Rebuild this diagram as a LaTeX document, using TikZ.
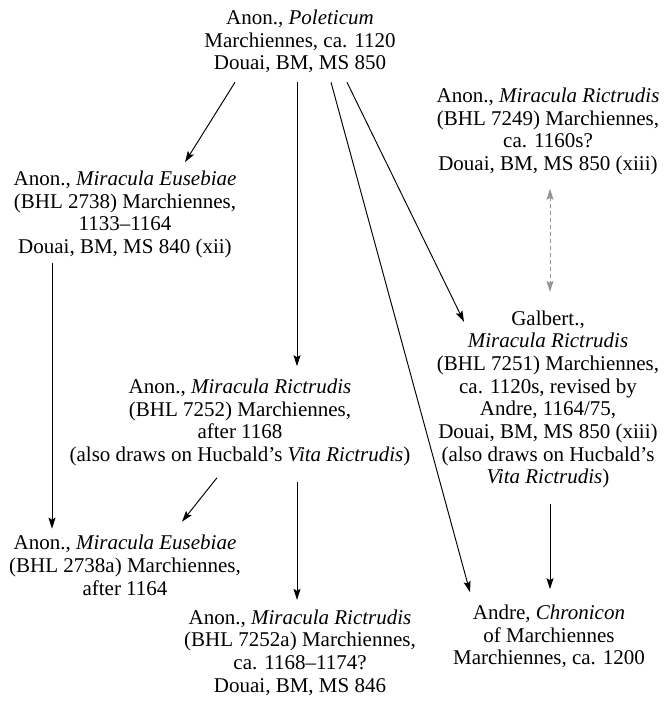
\documentclass[tikz,border=0pt]{standalone}
\usepackage{fontspec}
\setmainfont{Liberation Serif}
\usepackage{tikz}
\usetikzlibrary{arrows.meta}

\begin{document}
\begin{tikzpicture}[x=1pt, y=1pt,
    txt/.style = {align=center, inner sep=0pt, font=\fontsize{21}{22.7}\selectfont},
    arr/.style = {line width=0.95pt, -{Stealth[length=11pt, width=7pt, inset=2pt]}},
    dsh/.style = {line width=0.95pt, black!42, dash pattern=on 4pt off 3pt,
                  {Stealth[length=11pt, width=7pt, inset=2pt]}-{Stealth[length=11pt, width=7pt, inset=2pt]}}]
    \useasboundingbox (0,0) rectangle (665,703);
    \node[txt] (pol) at (300,661.5) {Anon., \textit{Poleticum}\\Marchiennes, ca. 1120\\Douai, BM, MS 850};
    \node[txt] (r7249) at (548,571.5) {Anon., \textit{Miracula Rictrudis}\\(BHL 7249) Marchiennes,\\ca. 1160s?\\Douai, BM, MS 850 (xiii)};
    \node[txt] (eus) at (125,488.5) {Anon., \textit{Miracula Eusebiae}\\(BHL 2738) Marchiennes,\\1133--1164\\Douai, BM, MS 840 (xii)};
    \node[txt] (galb) at (548,303.5) {Galbert.,\\\textit{Miracula Rictrudis}\\(BHL 7251) Marchiennes,\\ca. 1120s, revised by\\Andre, 1164/75,\\Douai, BM, MS 850 (xiii)\\(also draws on Hucbald's\\\textit{Vita Rictrudis})};
    \node[txt] (r7252) at (240,280.5) {Anon., \textit{Miracula Rictrudis}\\(BHL 7252) Marchiennes,\\after 1168\\(also draws on Hucbald's \textit{Vita Rictrudis})};
    \node[txt] (eusa) at (125,137.5) {Anon., \textit{Miracula Eusebiae}\\(BHL 2738a) Marchiennes,\\after 1164};
    \node[txt] (r7252a) at (300,50.5) {Anon., \textit{Miracula Rictrudis}\\(BHL 7252a) Marchiennes,\\ca. 1168--1174?\\Douai, BM, MS 846};
    \node[txt] (andre) at (549,66.5) {Andre, \textit{Chronicon}\\of Marchiennes\\Marchiennes, ca. 1200};
    % from the Poleticum
    \draw[arr] ([xshift=-65pt, yshift=-9pt]pol.south) -- ([xshift=60pt, yshift=8.5pt]eus.north);
    \draw[arr] ([xshift=-3pt, yshift=-9pt]pol.south) -- ([xshift=57pt, yshift=12.5pt]r7252.north);
    \draw[arr] ([xshift=31pt, yshift=-9pt]pol.south) -- ([xshift=-79pt, yshift=12.5pt]andre.north);
    \draw[arr] ([xshift=47pt, yshift=-9pt]pol.south) -- ([xshift=-84pt, yshift=-11.5pt]galb.north);
    % the rest
    \draw[arr] ([xshift=-73pt, yshift=-4.5pt]eus.south) -- ([xshift=-73pt, yshift=6.5pt]eusa.north);
    \draw[arr] ([xshift=-23pt, yshift=-11.5pt]r7252.south) -- ([xshift=57pt, yshift=13.5pt]eusa.north);
    \draw[arr] ([xshift=57pt, yshift=-16pt]r7252.south) -- ([xshift=-3pt, yshift=9.5pt]r7252a.north);
    \draw[arr] ([xshift=2pt, yshift=-15.5pt]galb.south) -- ([xshift=1pt, yshift=15.5pt]andre.north);
    \draw[dsh] ([xshift=2pt, yshift=-13.5pt]r7249.south) -- ([xshift=2pt, yshift=18.5pt]galb.north);
\end{tikzpicture}
\end{document}
